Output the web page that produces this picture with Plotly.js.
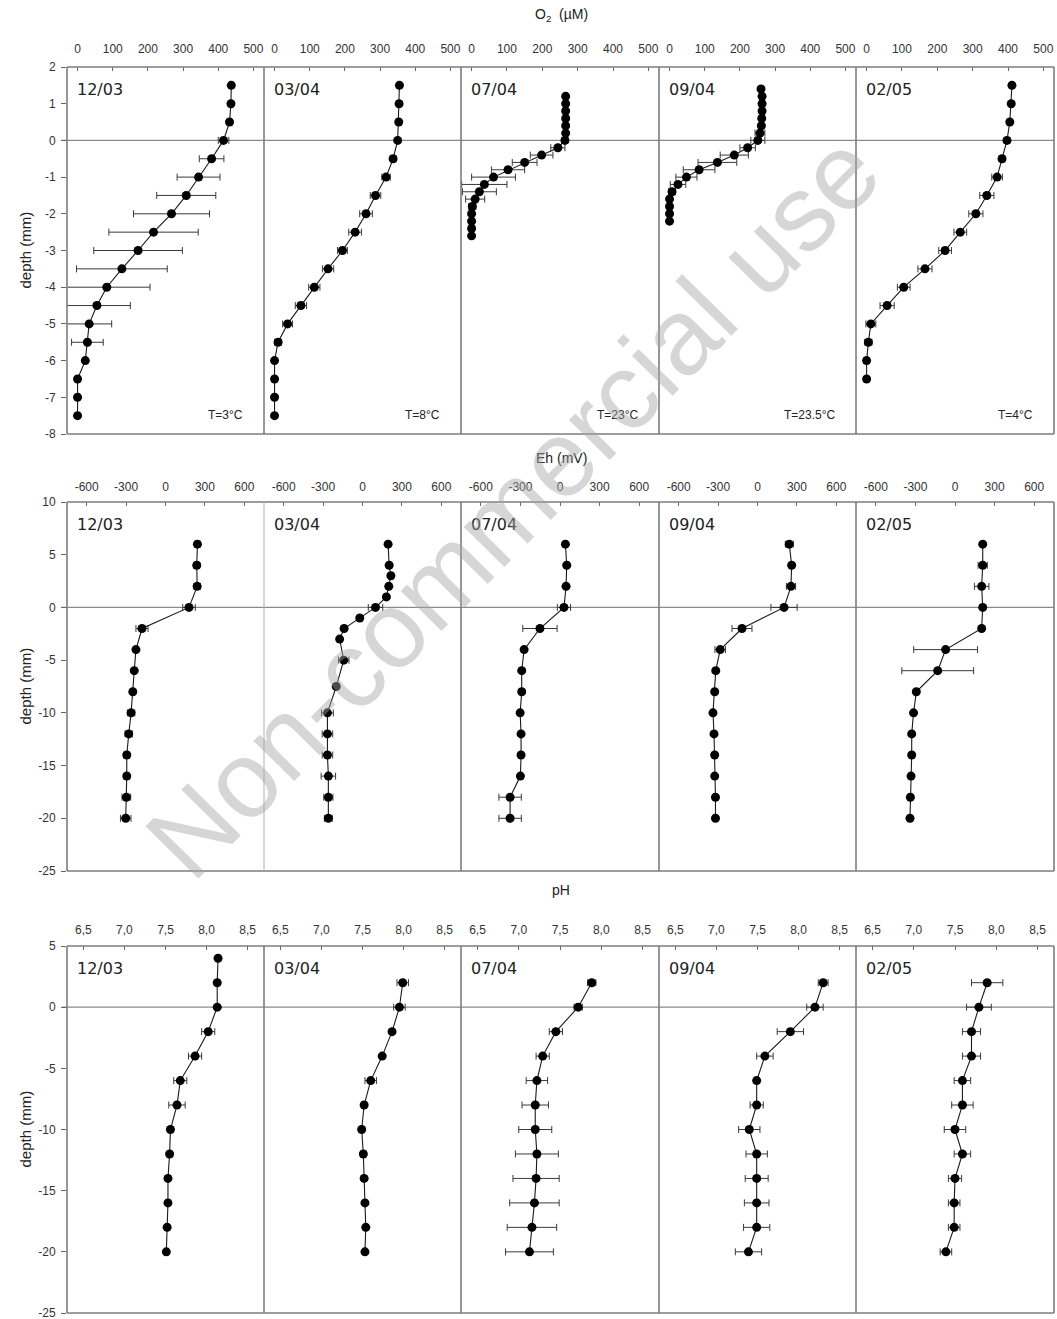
<!DOCTYPE html>
<html><head><meta charset="utf-8">
<script src="https://cdn.plot.ly/plotly-3.0.1.min.js"></script>
<style>html,body{margin:0;padding:0;background:#fff}</style>
</head><body><div id="chart" style="width:1057px;height:1319px"></div>
<script>
// ---------------- data ----------------
const dates = ["12/03", "03/04", "07/04", "09/04", "02/05"];
const temps = ["T=3°C", "T=8°C", "T=23°C", "T=23.5°C", "T=4°C"];

// O2 (µM) vs depth (mm)
const o2Depth_1203 = [1.5,1,0.5,0,-0.5,-1,-1.5,-2,-2.5,-3,-3.5,-4,-4.5,-5,-5.5,-6,-6.5,-7,-7.5];
const o2_1203      = [437,436,432,415,381,344,309,267,216,172,126,83,55,33,28,22,0,0,0];
const o2Err_1203   = [5,5,6,15,35,61,84,108,127,126,129,123,95,64,45,5,0,0,0];
const o2Depth_0304 = [1.5,1,0.5,0,-0.5,-1,-1.5,-2,-2.5,-3,-3.5,-4,-4.5,-5,-5.5,-6,-6.5,-7,-7.5];
const o2_0304      = [355,354,353,350,337,317,287,260,229,193,152,113,75,37,10,0,0,0,0];
const o2Err_0304   = [5,5,5,5,8,12,15,18,18,14,16,16,16,14,10,5,0,0,0];
const o2Depth_0704 = [1.2,1.0,0.8,0.6,0.4,0.2,0,-0.2,-0.4,-0.6,-0.8,-1.0,-1.2,-1.4,-1.6,-1.8,-2.0,-2.2,-2.4,-2.6];
const o2_0704      = [266,266,266,266,266,266,264,244,198,150,103,62,36,22,10,2,0,0,0,0];
const o2Err_0704   = [3,3,3,3,3,3,8,20,32,35,47,62,64,48,27,10,5,0,0,0];
const o2Depth_0904 = [1.4,1.2,1.0,0.8,0.6,0.4,0.2,0,-0.2,-0.4,-0.6,-0.8,-1.0,-1.2,-1.4,-1.6,-1.8,-2.0,-2.2];
const o2_0904      = [260,263,263,263,262,261,257,251,222,184,136,84,48,24,7,0,0,0,0];
const o2Err_0904   = [5,5,5,5,5,6,14,20,22,40,55,45,30,22,10,3,0,0,0];
const o2Depth_0205 = [1.5,1,0.5,0,-0.5,-1,-1.5,-2,-2.5,-3,-3.5,-4,-4.5,-5,-5.5,-6,-6.5];
const o2_0205      = [411,409,405,397,383,369,340,309,265,222,165,105,58,12,5,0,0];
const o2Err_0205   = [4,4,5,8,8,15,20,20,18,18,20,18,20,14,10,8,0];

// Eh (mV) vs depth (mm)
const ehDepth_1203 = [6,4,2,0,-2,-4,-6,-8,-10,-12,-14,-16,-18,-20];
const eh_1203      = [243,238,241,179,-179,-225,-238,-249,-262,-280,-295,-295,-298,-303];
const ehErr_1203   = [20,22,25,48,46,15,15,12,28,28,22,22,33,40];
const ehDepth_0304 = [6,4,3,2,1,0,-1,-2,-3,-5,-7.5,-10,-12,-14,-16,-18,-20];
const eh_0304      = [195,203,216,200,182,99,-21,-140,-174,-143,-200,-267,-267,-267,-260,-260,-260];
const ehErr_0304   = [15,15,18,18,15,55,10,10,10,40,15,45,40,40,55,35,30];
const ehDepth_0704 = [6,4,2,0,-2,-4,-6,-8,-10,-12,-14,-16,-18,-20];
const eh_0704      = [41,51,46,30,-152,-272,-290,-290,-302,-295,-295,-300,-378,-378];
const ehErr_0704   = [15,15,15,50,130,10,10,10,10,10,10,10,85,85];
const ehDepth_0904 = [6,4,2,0,-2,-4,-6,-8,-10,-12,-14,-16,-18,-20];
const eh_0904      = [242,260,255,202,-118,-284,-318,-326,-339,-331,-326,-326,-320,-320];
const ehErr_0904   = [30,15,35,100,76,40,10,10,10,10,10,10,10,10];
const ehDepth_0205 = [6,4,2,0,-2,-4,-6,-8,-10,-12,-14,-16,-18,-20];
const eh_0205      = [210,210,202,210,202,-71,-131,-293,-314,-328,-328,-333,-338,-341];
const ehErr_0205   = [10,35,55,10,10,242,272,10,10,10,10,10,10,10];

// pH vs depth (mm)
const phDepth_1203 = [4,2,0,-2,-4,-6,-8,-10,-12,-14,-16,-18,-20];
const ph_1203      = [8.14,8.13,8.13,8.02,7.86,7.68,7.64,7.56,7.55,7.53,7.53,7.52,7.51];
const phErr_1203   = [0.01,0.01,0.01,0.08,0.08,0.08,0.1,0.03,0.02,0.02,0.02,0.02,0.02];
const phDepth_0304 = [2,0,-2,-4,-6,-8,-10,-12,-14,-16,-18,-20];
const ph_0304      = [7.99,7.95,7.86,7.74,7.60,7.52,7.49,7.51,7.52,7.53,7.54,7.53];
const phErr_0304   = [0.07,0.07,0.02,0.02,0.07,0.03,0.02,0.03,0.03,0.02,0.02,0.02];
const phDepth_0704 = [2,0,-2,-4,-6,-8,-10,-12,-14,-16,-18,-20];
const ph_0704      = [7.885,7.72,7.45,7.29,7.22,7.20,7.20,7.22,7.21,7.19,7.16,7.13];
const phErr_0704   = [0.05,0.05,0.08,0.08,0.13,0.16,0.2,0.26,0.28,0.3,0.3,0.29];
const phDepth_0904 = [2,0,-2,-4,-6,-8,-10,-12,-14,-16,-18,-20];
const ph_0904      = [8.30,8.20,7.90,7.59,7.49,7.49,7.40,7.49,7.49,7.49,7.49,7.39];
const phErr_0904   = [0.06,0.1,0.16,0.1,0.03,0.08,0.13,0.13,0.14,0.15,0.16,0.16];
const phDepth_0205 = [2,0,-2,-4,-6,-8,-10,-12,-14,-16,-18,-20];
const ph_0205      = [7.89,7.79,7.70,7.70,7.59,7.59,7.50,7.59,7.50,7.49,7.49,7.39];
const phErr_0205   = [0.19,0.15,0.11,0.11,0.1,0.13,0.13,0.1,0.08,0.07,0.07,0.07];

// tick labels
const o2TickVals = [0,100,200,300,400,500];
const o2TickText = ["0","100","200","300","400","500"];
const ehTickVals = [-600,-300,0,300,600];
const ehTickText = ["-600","-300","0","300","600"];
const phTickVals = [6.5,7.0,7.5,8.0,8.5];
const phTickText = ["6,5","7,0","7,5","8,0","8,5"];
const o2DepthTicks = [2,1,0,-1,-2,-3,-4,-5,-6,-7,-8];
const o2DepthText  = ["2","1","0","-1","-2","-3","-4","-5","-6","-7","-8"];
const ehDepthTicks = [10,5,0,-5,-10,-15,-20,-25];
const ehDepthText  = ["10","5","0","-5","-10","-15","-20","-25"];
const phDepthTicks = [5,0,-5,-10,-15,-20,-25];
const phDepthText  = ["5","0","-5","-10","-15","-20","-25"];
const rowTitles = ["O<sub>2</sub>  (µM)", "Eh (mV)", "pH"];

// ---------------- build ----------------
const W = 1057, H = 1319;
const xEdges = [67, 264, 461, 659, 856, 1054];
const rowTops = [67, 502, 946], rowBots = [434, 871, 1313];
const tickFont = {family: "Liberation Sans, Arial, sans-serif", size: 12, color: "#333"};
const xStandoff = [11, 8, 9];

const rows = [
  {series: [[o2Depth_1203,o2_1203,o2Err_1203],[o2Depth_0304,o2_0304,o2Err_0304],[o2Depth_0704,o2_0704,o2Err_0704],[o2Depth_0904,o2_0904,o2Err_0904],[o2Depth_0205,o2_0205,o2Err_0205]],
   xr: [-30, 530], xv: o2TickVals, xt: o2TickText, yr: [-8, 2], yv: o2DepthTicks, yt: o2DepthText},
  {series: [[ehDepth_1203,eh_1203,ehErr_1203],[ehDepth_0304,eh_0304,ehErr_0304],[ehDepth_0704,eh_0704,ehErr_0704],[ehDepth_0904,eh_0904,ehErr_0904],[ehDepth_0205,eh_0205,ehErr_0205]],
   xr: [-750, 750], xv: ehTickVals, xt: ehTickText, yr: [-25, 10], yv: ehDepthTicks, yt: ehDepthText},
  {series: [[phDepth_1203,ph_1203,phErr_1203],[phDepth_0304,ph_0304,phErr_0304],[phDepth_0704,ph_0704,phErr_0704],[phDepth_0904,ph_0904,phErr_0904],[phDepth_0205,ph_0205,phErr_0205]],
   xr: [6.3, 8.7], xv: phTickVals, xt: phTickText, yr: [-25, 5], yv: phDepthTicks, yt: phDepthText}
];

const traces = [];
const layout = {
  width: W, height: H, margin: {l:0, r:0, t:0, b:0},
  paper_bgcolor: "#fff", plot_bgcolor: "rgba(0,0,0,0)",
  showlegend: false, shapes: [], annotations: [],
  font: {family: "Liberation Sans, Arial, sans-serif", color: "#333"}
};
const px = v => v / W, py = v => 1 - v / H;
const gray = "#7d7d7d";

rows.forEach((row, r) => {
  for (let p = 0; p < 5; p++) {
    const idx = r * 5 + p + 1;
    const xs = idx === 1 ? "" : String(idx);
    const s = row.series[p];
    traces.push({
      type: "scatter", mode: "lines+markers",
      x: s[1], y: s[0],
      xaxis: "x" + xs, yaxis: "y" + xs,
      line: {color: "#1a1a1a", width: 1.1},
      marker: {color: "#000", size: 9},
      error_x: {type: "data", array: s[2], visible: true, color: "#3a3a3a", thickness: 1, width: 3.5},
      cliponaxis: true, hoverinfo: "skip"
    });
    layout["xaxis" + xs] = {
      domain: [px(xEdges[p]), px(xEdges[p + 1])], anchor: "y" + xs, side: "top",
      range: row.xr, tickmode: "array", tickvals: row.xv, ticktext: row.xt,
      ticks: "inside", ticklen: 4, tickwidth: 1, tickcolor: "#666",
      showline: false, showgrid: false, zeroline: false, tickfont: tickFont,
      ticklabelstandoff: xStandoff[r], ticklabeloverflow: "allow", fixedrange: true
    };
    const ya = {
      domain: [py(rowBots[r]), py(rowTops[r])], anchor: "x" + xs,
      range: row.yr, showgrid: false, zeroline: false, showline: false, fixedrange: true
    };
    if (p === 0) {
      Object.assign(ya, {tickmode: "array", tickvals: row.yv, ticktext: row.yt,
        ticks: "outside", ticklen: 5, tickwidth: 1, tickcolor: "#666", tickfont: tickFont,
        ticklabelstandoff: 3, ticklabeloverflow: "allow"});
    } else {
      Object.assign(ya, {showticklabels: false, ticks: ""});
    }
    layout["yaxis" + xs] = ya;

    // date label
    layout.annotations.push({
      text: dates[p], xref: "paper", yref: "paper",
      x: px(xEdges[p] + 8), y: py(rowTops[r] + 22), xanchor: "left", yanchor: "middle",
      showarrow: false, font: {family: "DejaVu Sans, Verdana, sans-serif", size: 16, color: "#222"}
    });
    if (r === 0) {
      layout.annotations.push({
        text: temps[p], xref: "paper", yref: "paper",
        x: px(xEdges[p + 1] - 19), y: py(415), xanchor: "right", yanchor: "middle",
        showarrow: false, font: {family: "Liberation Sans, Arial, sans-serif", size: 12, color: "#222"}
      });
    }
  }
  // frame lines
  const t = py(rowTops[r]), b = py(rowBots[r]);
  layout.shapes.push({type: "line", xref: "paper", yref: "paper", x0: px(xEdges[0]), x1: px(xEdges[5]), y0: t, y1: t, line: {color: gray, width: 1.6}});
  layout.shapes.push({type: "line", xref: "paper", yref: "paper", x0: px(xEdges[0]), x1: px(xEdges[5]), y0: b, y1: b, line: {color: gray, width: 1.6}});
  xEdges.forEach((xe, i) => {
    const light = (r === 1 && i === 1);
    layout.shapes.push({type: "line", xref: "paper", yref: "paper", x0: px(xe), x1: px(xe), y0: b, y1: t,
      line: {color: light ? "#b0b0b0" : gray, width: light ? 1 : 1.6}});
  });
  // zero depth line
  const yid = "y" + (r === 0 ? "" : String(r * 5 + 1));
  layout.shapes.push({type: "line", xref: "paper", yref: yid, x0: px(xEdges[0] - 5), x1: px(xEdges[5]), y0: 0, y1: 0,
    layer: "below", line: {color: "#8a8a8a", width: 1.2}});
  // row titles
  layout.annotations.push({
    text: rowTitles[r], xref: "paper", yref: "paper",
    x: px(561), y: py([15, 458, 890][r]), xanchor: "center", yanchor: "middle",
    showarrow: false, font: {family: "Liberation Sans, Arial, sans-serif", size: 14, color: "#222"}
  });
  layout.annotations.push({
    text: "depth (mm)", xref: "paper", yref: "paper", textangle: -90,
    x: px(25), y: py((rowTops[r] + rowBots[r]) / 2), xanchor: "center", yanchor: "middle",
    showarrow: false, font: {family: "Liberation Sans, Arial, sans-serif", size: 15, color: "#222"}
  });
});

// watermark
layout.annotations.push({
  text: "Non-commercial use", xref: "paper", yref: "paper", textangle: -45.5,
  x: px(512), y: py(505), xanchor: "center", yanchor: "middle", showarrow: false,
  font: {family: "Liberation Sans, Arial, sans-serif", size: 108, color: "rgba(165,165,165,0.45)"}
});

Plotly.newPlot("chart", traces, layout, {staticPlot: true, displayModeBar: false});
</script>
</body></html>
